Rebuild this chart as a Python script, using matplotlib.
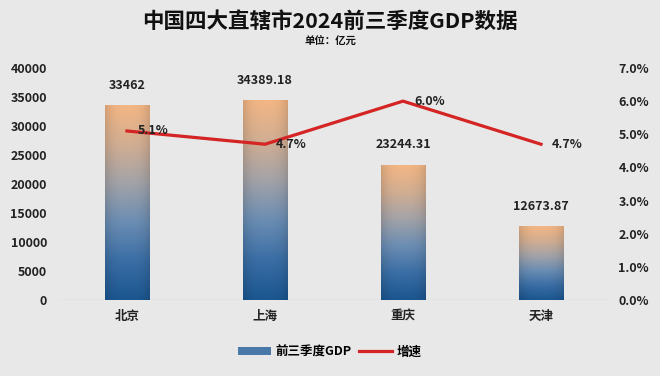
import numpy as np
import matplotlib
matplotlib.use("Agg")
import matplotlib.pyplot as plt
from matplotlib.colors import LinearSegmentedColormap
from matplotlib.patches import Patch
from matplotlib.lines import Line2D

plt.rcParams['font.family'] = ['Noto Sans CJK SC', 'DejaVu Sans']

cities = ["北京", "上海", "重庆", "天津"]
gdp = [33462, 34389.18, 23244.31, 12673.87]
growth = [5.1, 4.7, 6.0, 4.7]
left_ticks = [0, 5000, 10000, 15000, 20000, 25000, 30000, 35000, 40000]
right_ticks = [0, 1, 2, 3, 4, 5, 6, 7]

bg = "#e8e8e8"
cmap = LinearSegmentedColormap.from_list(
    "bar", ["#1b5690", "#3a6ea5", "#6b8db3", "#a3a3a8", "#d2ae92", "#f3b684"])

fig = plt.figure(figsize=(6.6, 3.76), dpi=100, facecolor=bg)
ax = fig.add_axes([58/660, 76/376, 552/660, 232/376], facecolor=bg)
ax2 = ax.twinx()

x = np.arange(len(cities))
width = 0.32

# gradient bars
grad = np.linspace(0, 1, 256).reshape(-1, 1)
hshade = 1 - 0.12 * np.abs(np.linspace(-1, 1, 40)) ** 3
for xi, v in zip(x, gdp):
    rgb = cmap(grad)[:, :, :3] * hshade[None, :, None]
    ax.imshow(rgb, extent=(xi - width/2, xi + width/2, 0, v), origin="lower",
              aspect="auto", zorder=2, interpolation="bilinear")
    lab = "{:.2f}".format(v).rstrip("0").rstrip(".")
    ax.annotate(lab, (xi, v), xytext=(0, 10), textcoords="offset points",
                ha="center", va="bottom", fontsize=9, fontweight="bold", color="#222222")

ax.axhline(0, color="#cfcfcf", lw=1, zorder=1)
ax.set_xlim(-0.5, 3.5)
ax.set_ylim(0, 40000)
ax.set_yticks(left_ticks)
ax.set_yticklabels([str(t) for t in left_ticks])
ax.set_xticks(x)
ax.set_xticklabels(cities, fontsize=10, fontweight="bold")

ax2.plot(x, growth, color="#d42424", lw=2.3, zorder=3, solid_joinstyle="miter")
for xi, g in zip(x, growth):
    ax2.annotate("{:.1f}%".format(g), (xi, g), xytext=(8, 0), textcoords="offset points",
                 ha="left", va="center", fontsize=9, fontweight="bold", color="#222222")
ax2.set_ylim(0, 7)
ax2.set_yticks(right_ticks)
ax2.set_yticklabels(["{:.1f}%".format(t) for t in right_ticks])

for a in (ax, ax2):
    for s in a.spines.values():
        s.set_visible(False)
    a.tick_params(length=0, labelsize=9, colors="#222222")
    for t in a.get_yticklabels():
        t.set_fontweight("bold")
ax.tick_params(axis="y", pad=8)
ax.tick_params(axis="x", pad=7)
ax2.tick_params(axis="y", pad=6)

fig.text(0.5, 0.942, "中国四大直辖市2024前三季度GDP数据", ha="center", va="center",
         fontsize=15.5, fontweight="bold", color="#111111")
fig.text(0.5, 0.888, "单位：亿元", ha="center", va="center",
         fontsize=7.5, fontweight="bold", color="#111111")

handles = [Patch(facecolor="#4a78a8", edgecolor="none"),
           Line2D([0], [0], color="#d42424", lw=2.3)]
fig.legend(handles, ["前三季度GDP", "增速"], loc="center", bbox_to_anchor=(0.5, 0.064),
           ncol=2, frameon=False, prop={"weight": "bold", "size": 9},
           handlelength=2.6, handleheight=0.6, columnspacing=0.6, handletextpad=0.4)

fig.savefig("out.png", dpi=100, facecolor=bg)
